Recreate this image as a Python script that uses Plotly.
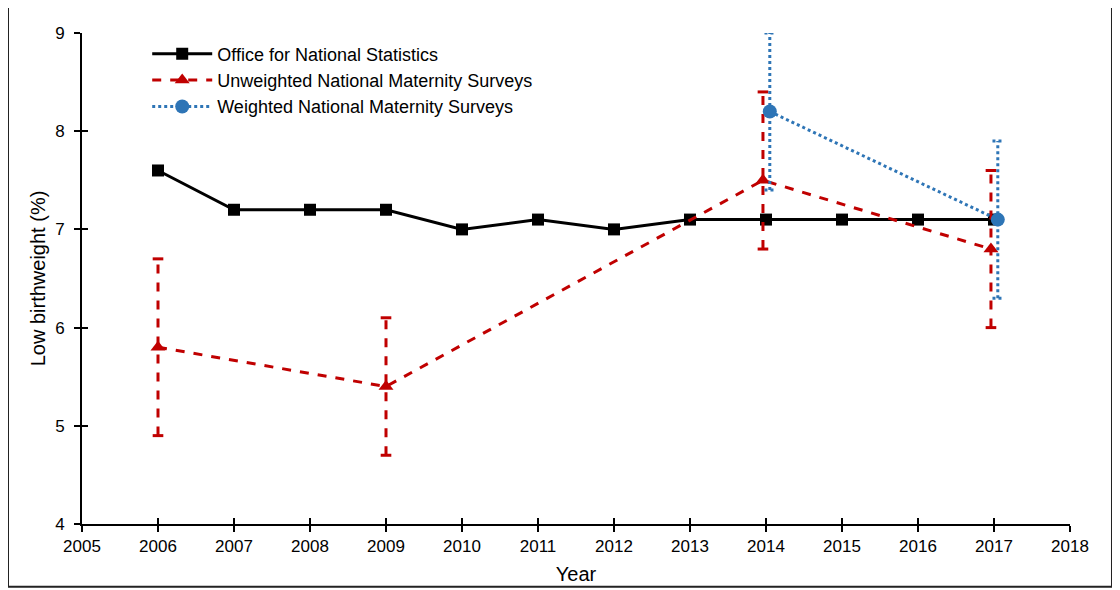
import plotly.graph_objects as go

years_ons = [2006, 2007, 2008, 2009, 2010, 2011, 2012, 2013, 2014, 2015, 2016, 2017]
ons = [7.6, 7.2, 7.2, 7.2, 7.0, 7.1, 7.0, 7.1, 7.1, 7.1, 7.1, 7.1]

years_unw = [2006, 2009, 2013.96, 2016.96]
unw = [5.8, 5.4, 7.5, 6.8]
unw_lo = [4.9, 4.7, 6.8, 6.0]
unw_hi = [6.7, 6.1, 8.4, 7.6]

years_w = [2014.05, 2017.05]
wtd = [8.2, 7.1]
wtd_lo = [7.4, 6.3]
wtd_hi = [9.0, 7.9]

RED = "#c00000"
BLUE = "#2e75b6"
CAP = 0.07

def bars(xs, lo, hi):
    vx, vy, cx, cy = [], [], [], []
    for x, l, h in zip(xs, lo, hi):
        vx += [x, x, None]
        vy += [l, h, None]
        for v in (l, h):
            cx += [x - CAP, x + CAP, None]
            cy += [v, v, None]
    return vx, vy, cx, cy

fig = go.Figure()

fig.add_trace(go.Scatter(x=years_ons, y=ons, mode="lines+markers",
                         name="Office for National Statistics",
                         line=dict(color="black", width=3),
                         marker=dict(symbol="square", size=12, color="black")))

vx, vy, cx, cy = bars(years_unw, unw_lo, unw_hi)
fig.add_trace(go.Scatter(x=vx, y=vy, mode="lines", showlegend=False, hoverinfo="skip",
                         line=dict(color=RED, width=3, dash="dash")))
fig.add_trace(go.Scatter(x=cx, y=cy, mode="lines", showlegend=False, hoverinfo="skip",
                         line=dict(color=RED, width=3)))
fig.add_trace(go.Scatter(x=years_unw, y=unw, mode="lines+markers",
                         name="Unweighted National Maternity Surveys",
                         line=dict(color=RED, width=3, dash="dash"),
                         marker=dict(symbol="triangle-up", size=13, color=RED)))

vx, vy, cx, cy = bars(years_w, wtd_lo, wtd_hi)
fig.add_trace(go.Scatter(x=vx, y=vy, mode="lines", showlegend=False, hoverinfo="skip",
                         line=dict(color=BLUE, width=3, dash="dot")))
fig.add_trace(go.Scatter(x=cx, y=cy, mode="lines", showlegend=False, hoverinfo="skip",
                         line=dict(color=BLUE, width=3, dash="dot")))
fig.add_trace(go.Scatter(x=years_w, y=wtd, mode="lines+markers",
                         name="Weighted National Maternity Surveys",
                         line=dict(color=BLUE, width=3, dash="dot"),
                         marker=dict(symbol="circle", size=14, color=BLUE)))

font = "Liberation Sans, Arial, Helvetica, sans-serif"

fig.update_layout(
    width=1120, height=590,
    margin=dict(l=74, r=58, t=25, b=74),
    paper_bgcolor="white", plot_bgcolor="white",
    font=dict(family=font, size=17, color="black"),
    xaxis=dict(range=[2005, 2018], dtick=1, tick0=2005, showgrid=False, zeroline=False,
               showline=True, linecolor="black", linewidth=2,
               ticks="outside", ticklen=6, tickwidth=2, tickcolor="black",
               tickfont=dict(size=17), title=dict(text="Year", font=dict(size=20), standoff=12)),
    yaxis=dict(range=[4, 9], dtick=1, showgrid=False, zeroline=False,
               showline=True, linecolor="black", linewidth=2,
               ticks="outside", ticklen=6, tickwidth=2, tickcolor="black",
               ticklabelstandoff=6,
               tickfont=dict(size=17), title=dict(text="Low birthweight (%)", font=dict(size=20), standoff=4)),
    xaxis2=dict(range=[2005, 2018], dtick=1, tick0=2005, overlaying="x", anchor="y",
                showgrid=False, zeroline=False, showticklabels=False,
                ticks="inside", ticklen=6, tickwidth=2, tickcolor="black", side="bottom"),
    yaxis2=dict(range=[4, 9], dtick=1, overlaying="y", anchor="x",
                showgrid=False, zeroline=False, showticklabels=False,
                ticks="inside", ticklen=6, tickwidth=2, tickcolor="black", side="left"),
    legend=dict(x=0.066, y=0.995, xanchor="left", yanchor="top",
                bgcolor="rgba(0,0,0,0)", font=dict(size=18), tracegroupgap=0,
                itemwidth=60),
    shapes=[dict(type="rect", xref="paper", yref="paper",
                 x0=-0.0749, x1=1.0425, y0=-0.128, y1=1.057,
                 line=dict(color="#222", width=2), fillcolor="rgba(0,0,0,0)", layer="below")],
)
fig.add_trace(go.Scatter(x=[None], y=[None], xaxis="x2", yaxis="y2", showlegend=False, hoverinfo="skip"))

fig.write_html("out.html")
